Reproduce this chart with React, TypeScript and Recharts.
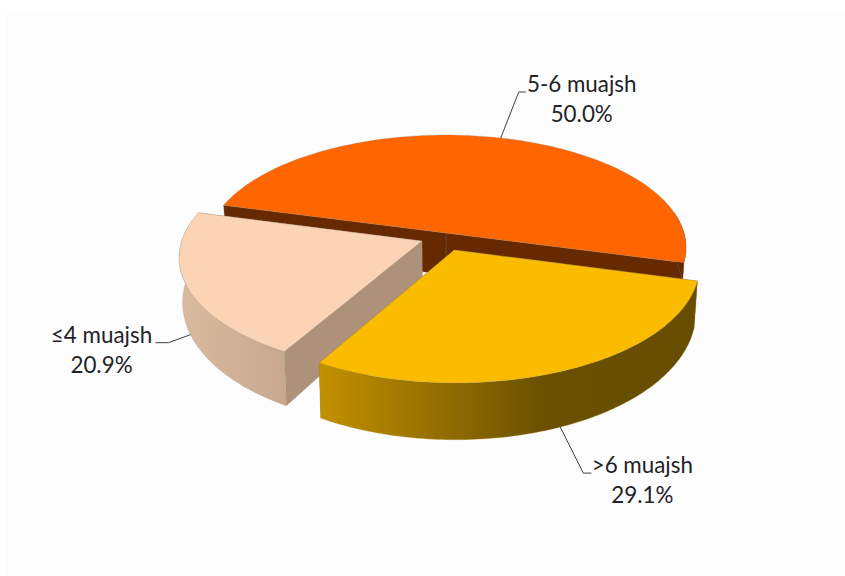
import { Pie, PieChart } from "recharts";

const categories = ["5-6 muajsh", "≤4 muajsh", ">6 muajsh"];
const shares = [50.0, 20.9, 29.1];

const data = categories.map((name, i) => ({ name, value: shares[i] }));

const WIDTH = 845;
const HEIGHT = 576;
const CENTER_X = 446;
const CENTER_Y = 233;
const RADIUS = 238;

// tilt and perspective of the disc
const SQUASH = 0.465;
const PERSPECTIVE = 0.13;
const WALL_SHRINK = 0.013;
const wallHeight = (depth: number) => 42 + 13 * depth;

const sliceStyles: Record<string, any> = {
  "5-6 muajsh": {
    id: "wall-mid",
    top: "#ff6600",
    side: "#662900",
    stops: [
      [0, "#662900"],
      [1, "#662900"],
    ],
    pull: [0, 0],
    leader: [18, -46, 25],
    text: [81, -46],
    edge: "#8a7a6e",
  },
  "≤4 muajsh": {
    id: "wall-low",
    top: "#fbd3b5",
    side: "#ae9179",
    stops: [
      [0, "#dabb9f"],
      [1, "#c7a78e"],
    ],
    pull: [-0.1, 0.072],
    leader: [-22, 8, -35],
    text: [-89, 8],
    edge: "#9c8d80",
  },
  ">6 muajsh": {
    id: "wall-high",
    top: "#fbbc00",
    side: "#6a5000",
    stops: [
      [0, "#c29100"],
      [0.6, "#6a5000"],
      [1, "#664d00"],
    ],
    pull: [0.034, 0.151],
    leader: [23, 46, 31],
    text: [82, 46],
    edge: "#b59a4a",
  },
};

// Maps a spot on the disc (polar angle in degrees, radius fraction) to the screen.
// level 0 is the top face, level 1 the bottom of the wall.
const project = (
  cx: number,
  cy: number,
  r: number,
  pull: number[],
  angle: number,
  frac: number,
  level: number,
) => {
  const rad = (angle * Math.PI) / 180;
  const wx = frac * Math.cos(rad) + pull[0];
  const wy = -frac * Math.sin(rad) + pull[1];
  const scale = 1 / (1 - PERSPECTIVE * wy);
  const shrink = 1 - WALL_SHRINK * level;
  return {
    x: cx + r * wx * scale * shrink,
    y: cy + r * SQUASH * wy * scale + level * wallHeight(wy),
  };
};

const toPath = (pts: { x: number; y: number }[]) =>
  pts.map((p, i) => `${i ? "L" : "M"}${p.x.toFixed(2)} ${p.y.toFixed(2)}`).join(" ") + " Z";

const SliceShape = (props: any) => {
  const { cx, cy, outerRadius, startAngle, endAngle, payload } = props;
  const style = sliceStyles[payload.name];
  const at = (a: number, f: number, l: number) => project(cx, cy, outerRadius, style.pull, a, f, l);

  const arc: number[] = [];
  const steps = Math.ceil(Math.abs(endAngle - startAngle));
  for (let i = 0; i <= steps; i++) arc.push(startAngle + ((endAngle - startAngle) * i) / steps);

  // only the near part of the rim shows a wall
  const nearArc = arc.filter((a) => Math.sin((a * Math.PI) / 180) < 0.2);

  const topFace = toPath([at(0, 0, 0), ...arc.map((a) => at(a, 1, 0))]);
  const outerWall = toPath([...nearArc.map((a) => at(a, 1, 0)), ...[...nearArc].reverse().map((a) => at(a, 1, 1))]);
  const radialWall = (a: number) => toPath([at(a, 0, 0), at(a, 1, 0), at(a, 1, 1), at(a, 0, 1)]);

  return (
    <g stroke={style.edge} strokeWidth={0.5} strokeOpacity={0.55}>
      <defs>
        <linearGradient id={style.id} x1="0" y1="0" x2="1" y2="0">
          {style.stops.map(([offset, color]: [number, string]) => (
            <stop key={offset} offset={offset} stopColor={color} />
          ))}
        </linearGradient>
      </defs>
      <path d={radialWall(startAngle)} fill={style.side} />
      <path d={radialWall(endAngle)} fill={style.side} />
      <path d={outerWall} fill={`url(#${style.id})`} />
      <path d={topFace} fill={style.top} />
    </g>
  );
};

// Leader line starts on the rim at the slice's mid angle, then the two-line caption.
const SliceLabel = (props: any) => {
  const { cx, cy, outerRadius, midAngle, payload } = props;
  const style = sliceStyles[payload.name];
  const rad = (midAngle * Math.PI) / 180;
  const frontFacing = Math.sin(rad) < 0;
  const anchor = project(cx, cy, outerRadius, style.pull, midAngle, 1, frontFacing ? 1 : 0);
  const [elbowX, elbowY, endX] = style.leader;
  const [textX, textY] = style.text;
  const pts = [
    `${anchor.x},${anchor.y}`,
    `${anchor.x + elbowX},${anchor.y + elbowY}`,
    `${anchor.x + endX},${anchor.y + elbowY}`,
  ].join(" ");
  return (
    <g>
      <polyline points={pts} fill="none" stroke="#404040" strokeWidth={1} />
      <text
        x={anchor.x + textX}
        y={anchor.y + textY}
        textAnchor="middle"
        fontFamily="Lato, sans-serif"
        fontSize={22.4}
        fill="#1f2328"
      >
        <tspan x={anchor.x + textX}>{payload.name}</tspan>
        <tspan x={anchor.x + textX} dy={30}>
          {`${payload.value.toFixed(1)}%`}
        </tspan>
      </text>
    </g>
  );
};

export default function App() {
  return (
    <div style={{ position: "absolute", left: 0, top: 0, width: WIDTH, height: HEIGHT, background: "#ffffff" }}>
      <div
        style={{ position: "absolute", left: 6, top: 11, width: WIDTH - 6, height: HEIGHT - 11, background: "#fdfdfd" }}
      />
      <div style={{ position: "absolute", left: 0, top: 0 }}>
        <PieChart width={WIDTH} height={HEIGHT} margin={{ top: 0, right: 0, bottom: 0, left: 0 }}>
          <Pie
            data={data}
            dataKey="value"
            nameKey="name"
            cx={CENTER_X}
            cy={CENTER_Y}
            innerRadius={0}
            outerRadius={RADIUS}
            startAngle={-15}
            endAngle={345}
            paddingAngle={0}
            shape={SliceShape}
            label={SliceLabel}
            labelLine={false}
            isAnimationActive={false}
          />
        </PieChart>
      </div>
    </div>
  );
}
